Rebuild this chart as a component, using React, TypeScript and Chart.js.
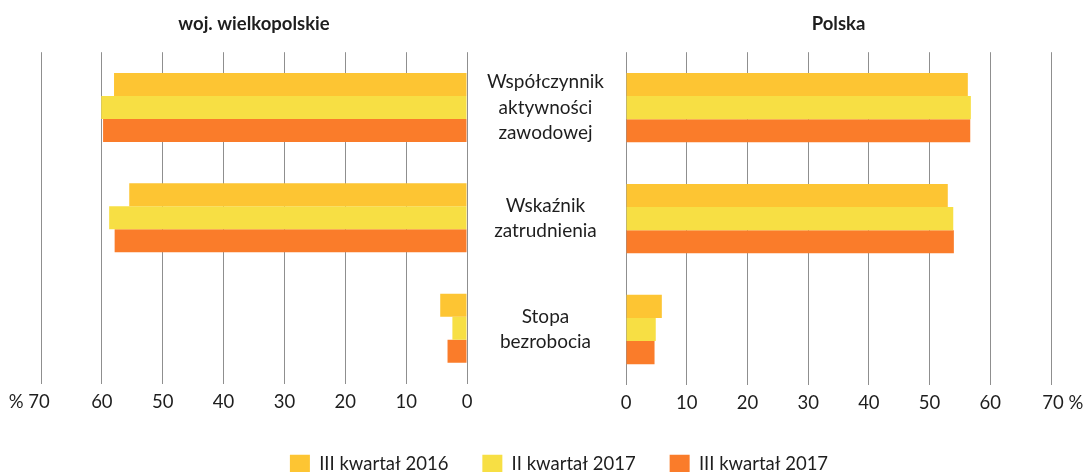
import { useEffect, useRef } from 'react';
import { Chart, registerables } from 'chart.js';

Chart.register(...registerables);

// ---- data ----
const categories: string[][] = [
  ['Współczynnik', 'aktywności', 'zawodowej'],
  ['Wskaźnik', 'zatrudnienia'],
  ['Stopa', 'bezrobocia'],
];
const seriesNames = ['III kwartał 2016', 'II kwartał 2017', 'III kwartał 2017'];
const seriesColors = ['#FDC533', '#F7DF44', '#FA7C2A'];

const wielkopolskie2016Q3 = [58.0, 55.5, 4.4];
const wielkopolskie2017Q2 = [60.1, 58.8, 2.4];
const wielkopolskie2017Q3 = [59.8, 57.9, 3.2];

const polska2016Q3 = [56.3, 53.0, 5.9];
const polska2017Q2 = [56.8, 53.9, 4.9];
const polska2017Q3 = [56.7, 54.0, 4.7];

const leftTitle = 'woj. wielkopolskie';
const rightTitle = 'Polska';
const leftTickLabels = ['0', '10', '20', '30', '40', '50', '60', '% 70     '];
const rightTickLabels = ['0', '10', '20', '30', '40', '50', '60', '     70 %'];

const FONT = 'Lato, "Noto Sans", sans-serif';
const TEXT = '#1e1e1e';
const GRID = '#8f8f8f';
const W = 1083;
const H = 483;

function makeDatasets(values: number[][]) {
  return values.map((v, i) => ({
    label: seriesNames[i],
    data: v,
    backgroundColor: seriesColors[i],
    borderWidth: 0,
    barPercentage: 1.0,
    categoryPercentage: 0.625,
  }));
}

function xAxis(reverse: boolean, labels: string[]) {
  return {
    type: 'linear' as const,
    position: 'bottom' as const,
    reverse,
    min: 0,
    max: 70,
    grid: { color: GRID, lineWidth: 1, drawTicks: false },
    border: { display: false },
    ticks: {
      stepSize: 10,
      autoSkip: false,
      padding: 7,
      color: TEXT,
      font: { family: FONT, size: 18.5 },
      maxRotation: 0,
      callback: (v: any) => labels[Math.round(Number(v) / 10)] ?? String(v),
    },
    afterFit: (s: any) => {
      s.height = 35.5;
      s.paddingLeft = 0;
      s.paddingRight = 0;
    },
  };
}

const titleOpts = (text: string) => ({
  display: true,
  text,
  fullSize: false,
  color: TEXT,
  font: { family: FONT, size: 18.5, weight: 'bold' as const },
  padding: { top: 13, bottom: 17 },
});

export default function App() {
  const leftRef = useRef<HTMLCanvasElement>(null);
  const rightRef = useRef<HTMLCanvasElement>(null);

  useEffect(() => {
    const left = new Chart(leftRef.current!, {
      type: 'bar',
      data: {
        labels: categories,
        datasets: makeDatasets([wielkopolskie2016Q3, wielkopolskie2017Q2, wielkopolskie2017Q3]),
      },
      options: {
        indexAxis: 'y',
        animation: false,
        responsive: false,
        devicePixelRatio: 1,
        layout: { padding: { left: 41, right: W - 467, top: 0, bottom: 64 } },
        plugins: {
          legend: { display: false },
          tooltip: { enabled: false },
          title: titleOpts(leftTitle),
        },
        scales: {
          x: xAxis(true, leftTickLabels),
          y: { display: false },
        },
      },
    });

    const right = new Chart(rightRef.current!, {
      type: 'bar',
      data: {
        labels: categories,
        datasets: makeDatasets([polska2016Q3, polska2017Q2, polska2017Q3]),
      },
      options: {
        indexAxis: 'y',
        animation: false,
        responsive: false,
        devicePixelRatio: 1,
        layout: { padding: { left: 67, right: 32, top: 0, bottom: 0 } },
        plugins: {
          tooltip: { enabled: false },
          title: titleOpts(rightTitle),
          legend: {
            display: true,
            position: 'bottom',
            labels: {
              boxWidth: 20,
              boxHeight: 18,
              padding: 34,
              color: TEXT,
              font: { family: FONT, size: 18.5 },
            },
          },
        },
        scales: {
          x: xAxis(false, rightTickLabels),
          y: {
            position: 'left',
            grid: { display: false, drawTicks: false },
            border: { display: false },
            ticks: {
              crossAlign: 'center',
              padding: 22,
              color: TEXT,
              font: { family: FONT, size: 19, lineHeight: 1.34 },
            },
            afterFit: (s: any) => {
              s.width = 626 - 67;
            },
          },
        },
      },
    });

    return () => {
      left.destroy();
      right.destroy();
    };
  }, []);

  return (
    <div
      style={{
        position: 'absolute',
        left: 0,
        top: 0,
        width: W,
        height: 472,
        overflow: 'hidden',
        background: '#ffffff',
      }}
    >
      <canvas ref={leftRef} width={W} height={H} style={{ position: 'absolute', left: 0, top: 0 }} />
      <canvas ref={rightRef} width={W} height={H} style={{ position: 'absolute', left: 0, top: 0 }} />
    </div>
  );
}
